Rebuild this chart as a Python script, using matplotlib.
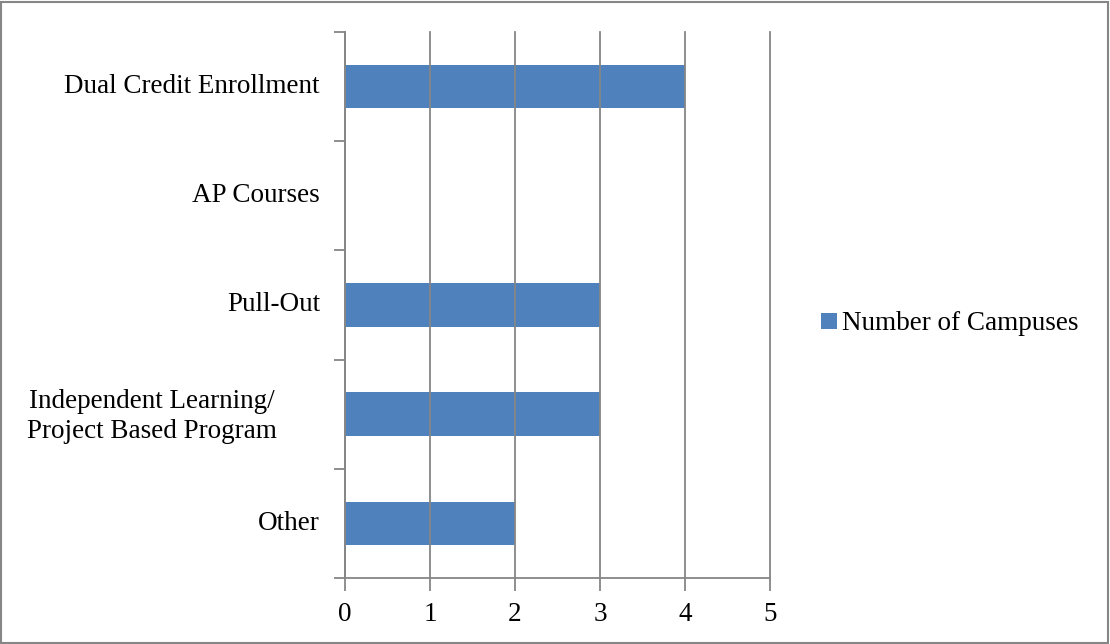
import matplotlib
matplotlib.use("Agg")
import matplotlib.pyplot as plt
import matplotlib.transforms as mtransforms
from matplotlib.patches import Rectangle, Patch

categories = ["Dual Credit Enrollment", "AP Courses", "Pull-Out",
              "Independent Learning/\nProject Based Program", "Other"]
values = [4, 0, 3, 3, 2]
series_name = "Number of Campuses"
x_ticks = [0, 1, 2, 3, 4, 5]

BAR = "#4F81BD"
GRID = "#868686"
FONT = "Liberation Serif"
FS = 19.5

fig = plt.figure(figsize=(11.10, 6.44), dpi=100)
ax = fig.add_axes([345/1110, 1-578/644, 425/1110, 546/644])

n = len(categories)
ypos = list(range(n))
ax.barh(ypos, values, height=0.4, color=BAR, zorder=1)
ax.set_ylim(n - 0.5, -0.5)
ax.set_xlim(0, 5)

ax.set_xticks(x_ticks)
ax.set_xticklabels([str(t) for t in x_ticks], fontfamily=FONT, fontsize=FS)
ax.xaxis.grid(True, color=GRID, linewidth=1.3, zorder=2)
ax.set_axisbelow(False)
for gl in ax.get_xgridlines():
    gl.set_clip_on(False)

ax.set_yticks([i - 0.5 for i in range(n + 1)])
ax.set_yticklabels([])
ax.tick_params(axis="y", length=8, color=GRID, width=1.3)
ax.tick_params(axis="x", length=9, color=GRID, width=1.3, pad=8)

trans = mtransforms.blended_transform_factory(ax.transAxes, ax.transData)
for i, c in enumerate(categories):
    if "\n" in c:
        ax.text(-0.454, i + 0.02, c, transform=trans, ha="center", va="center",
                multialignment="center", fontfamily=FONT, fontsize=FS,
                linespacing=1.28)
    else:
        ax.text(-25/425, i, c, transform=trans, ha="right", va="center",
                fontfamily=FONT, fontsize=FS)

for s in ["top", "right"]:
    ax.spines[s].set_visible(False)
for s in ["left", "bottom"]:
    ax.spines[s].set_color(GRID)
    ax.spines[s].set_linewidth(1.3)

leg = fig.legend(handles=[Patch(facecolor=BAR, label=series_name)],
                 loc="center left", bbox_to_anchor=(797/1110, 1-324/644),
                 frameon=False, handlelength=0.57, handleheight=0.57,
                 handletextpad=0.2, prop={"family": FONT, "size": FS})

fig.patches.append(Rectangle((0.001, 0.002), 0.997, 0.995, transform=fig.transFigure,
                             fill=False, edgecolor=GRID, linewidth=1.5))

fig.savefig("out.png", dpi=100)
